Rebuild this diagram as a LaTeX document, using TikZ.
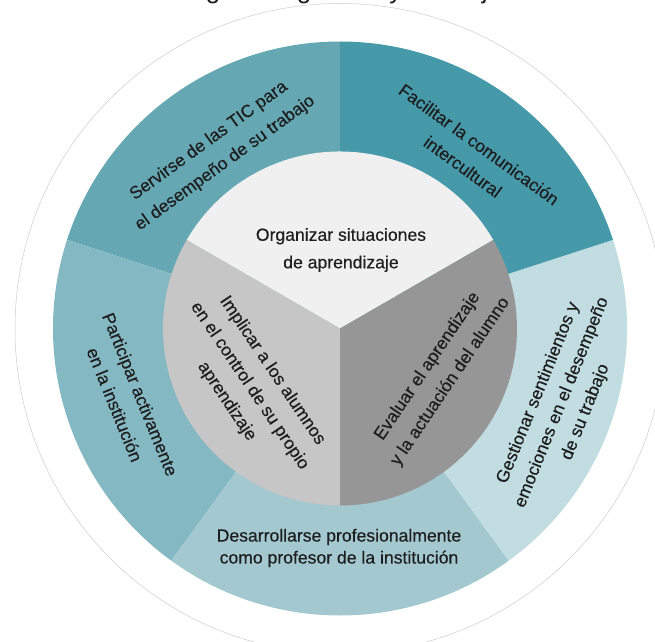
\documentclass[tikz,border=0pt]{standalone}
\usepackage{fontspec}
\setmainfont{Liberation Sans}
\newfontfamily\labelfont[FakeBold=0.35]{Liberation Sans}
\definecolor{cServ}{HTML}{65A8B4}
\definecolor{cFac}{HTML}{4599A9}
\definecolor{cGest}{HTML}{C2DDE2}
\definecolor{cDes}{HTML}{A3C8CF}
\definecolor{cPart}{HTML}{84B8C3}
\definecolor{cOrg}{HTML}{F0F0F0}
\definecolor{cImp}{HTML}{C6C6C6}
\definecolor{cEval}{HTML}{969696}
\definecolor{textc}{HTML}{1E1E1E}
\definecolor{ringc}{HTML}{CCCCCC}
\begin{document}
\begin{tikzpicture}[x=1pt,y=1pt,
  txt/.style={text=textc, font=\labelfont\fontsize{17.6}{27.5}\selectfont, align=center, inner sep=0pt},
  txttight/.style={txt, font=\labelfont\fontsize{17.6}{22}\selectfont},
  txtmid/.style={txt, font=\labelfont\fontsize{17.6}{25.5}\selectfont}]
\useasboundingbox (0,0) rectangle (655,641);
\node[anchor=base west, text=textc, font=\fontsize{26}{30}\selectfont, inner sep=0pt] (title) at (171,642.5) {lenguas segundas y extranjeras};
\coordinate (c) at (340,312.5);
\begin{scope}[shift={(c)}]
  \draw[ringc, line width=0.5pt] (0,0) circle[radius=325pt];
  % outer ring
  \fill[cServ] (0,0) -- (90:287pt) arc[start angle=90,end angle=162,radius=287pt] -- cycle;
  \fill[cPart] (0,0) -- (162:287pt) arc[start angle=162,end angle=234,radius=287pt] -- cycle;
  \fill[cDes]  (0,0) -- (234:287pt) arc[start angle=234,end angle=306,radius=287pt] -- cycle;
  \fill[cGest] (0,0) -- (306:287pt) arc[start angle=306,end angle=378,radius=287pt] -- cycle;
  \fill[cFac]  (0,0) -- (18:287pt) arc[start angle=18,end angle=90,radius=287pt] -- cycle;
  % inner circle
  \fill[cOrg]  (0,0) -- (30:177pt) arc[start angle=30,end angle=150,radius=177pt] -- cycle;
  \fill[cImp]  (0,0) -- (150:177pt) arc[start angle=150,end angle=270,radius=177pt] -- cycle;
  \fill[cEval] (0,0) -- (270:177pt) arc[start angle=270,end angle=390,radius=177pt] -- cycle;
  % labels
  \node[txt] (org) at (1,78.5) {Organizar situaciones\\de aprendizaje};
  \node[txt, rotate=-56] (imp) at (-90.5,-57.5) {Implicar a los alumnos\\en el control de su propio\\aprendizaje};
  \node[txt, rotate=56] (eval) at (99,-45.5) {Evaluar el aprendizaje\\y la actuación del alumno};
  \node[txt, rotate=36] (serv) at (-123,176.5) {Servirse de las TIC para\\el desempeño de su trabajo};
  \node[txt, rotate=-36] (fac) at (131,173) {Facilitar la comunicación\\intercultural};
  \node[txtmid, rotate=68] (gest) at (222,-74) {Gestionar sentimientos y\\emociones en el desempeño\\de su trabajo};
  \node[txttight] (des) at (-1,-219.5) {Desarrollarse profesionalmente\\como profesor de la institución};
  \node[txt, rotate=-68] (part) at (-212.5,-71) {Participar activamente\\en la institución};
\end{scope}
\end{tikzpicture}
\end{document}
